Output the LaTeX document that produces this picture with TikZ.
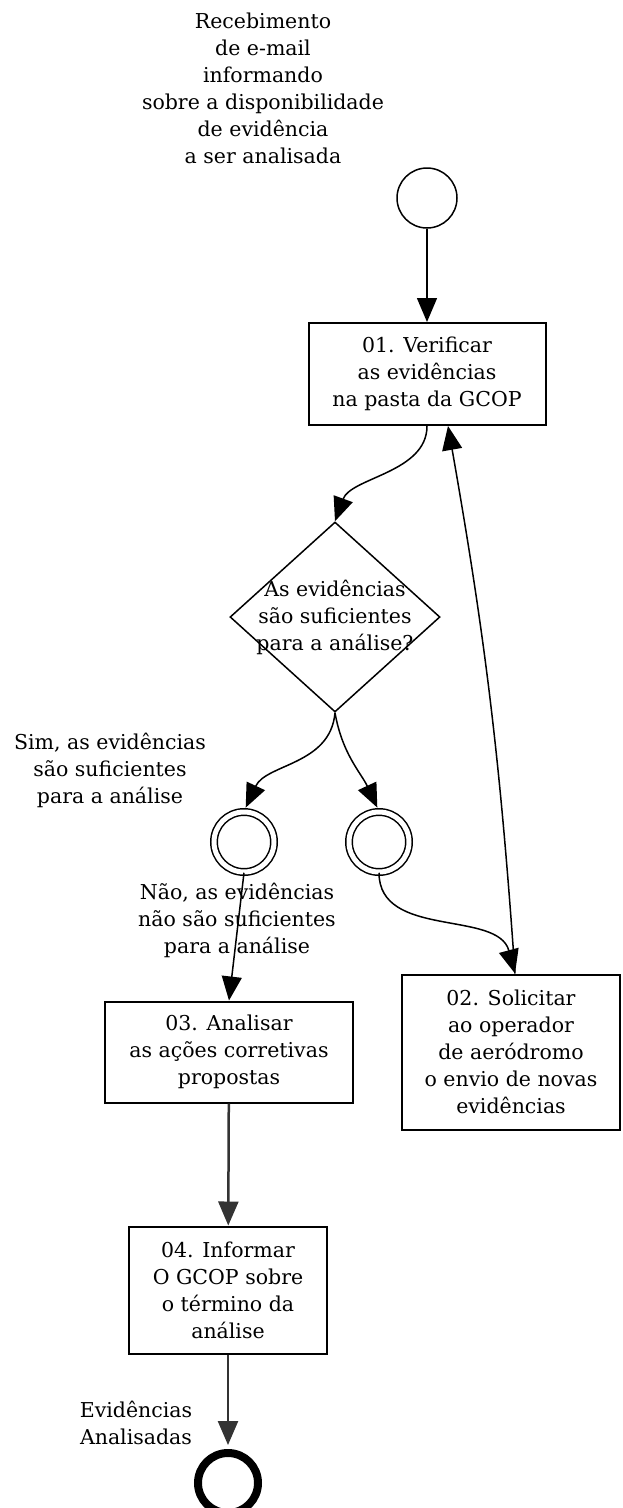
\documentclass[tikz,border=0pt]{standalone}
\usepackage{fontspec}
\setmainfont{DejaVu Serif}
\usetikzlibrary{shapes.geometric, arrows.meta, positioning}

\begin{document}
\begin{tikzpicture}[x=1pt, y=-1pt, font=\fontsize{20.5}{27}\selectfont,
    task/.style={draw, line width=2pt, align=center, inner sep=0pt},
    gateway/.style={draw, diamond, line width=1.5pt, minimum width=210pt, minimum height=190pt, inner sep=0pt},
    startev/.style={draw, circle, line width=1.5pt, minimum size=60pt, inner sep=0pt},
    midev/.style={draw, circle, double, line width=1.5pt, double distance=5pt, minimum size=60pt, inner sep=0pt},
    endev/.style={draw, circle, line width=8pt, minimum size=60pt, inner sep=0pt},
    flow/.style={line width=1.5pt, -{Triangle[length=24pt, width=20pt]}},
    flowthick/.style={flow, line width=2.5pt, black!80},
    lbl/.style={align=center, inner sep=0pt}]
    \useasboundingbox (0,0) rectangle (622,1508);

    % Events
    \node[lbl] (trigger) at (263,88) {Recebimento\\de e-mail\\informando\\sobre a disponibilidade\\de evidência\\a ser analisada};
    \node[startev] (start) at (427,198) {};
    \node[midev] (yes) at (244,842) {};
    \node[midev] (no) at (379,842) {};
    \node[endev] (finish) at (228,1483) {};
    \node[lbl] (finishlbl) at (136,1423) {Evidências\\Analisadas};

    % Tasks
    \node[task, minimum width=237pt, minimum height=102pt] (verify) at (427,374) {01. Verificar\\as evidências\\na pasta da GCOP};
    \node[task, minimum width=218pt, minimum height=155pt] (request) at (511,1052) {02. Solicitar\\ao operador\\de aeródromo\\o envio de novas\\evidências};
    \node[task, minimum width=248pt, minimum height=101pt] (analyse) at (229,1052) {03. Analisar\\as ações corretivas\\propostas};
    \node[task, minimum width=198pt, minimum height=127pt] (inform) at (228,1290) {04. Informar\\O GCOP sobre\\o término da\\análise};

    % Gateway
    \node[gateway] (gw) at (335,617) {};
    \node[lbl] (gwtext) at (gw) {As evidências\\são suficientes\\para a análise?};
    \node[lbl] (yeslbl) at (110,770) {Sim, as evidências\\são suficientes\\para a análise};
    \node[lbl] (nolbl) at (237,920) {Não, as evidências\\não são suficientes\\para a análise};

    % Flows
    \draw[flow] (start) -- (verify);
    \draw[flow] (verify.south) to[out=-90, in=70, looseness=0.9] (gw.north);
    \draw[flow, shorten >=4pt] (gw.south) to[out=-95, in=65] (yes.north);
    \draw[flow, shorten >=4pt] (gw.south) to[out=-80, in=115] (no.north);
    \draw[flow] (yes.south) -- (analyse.north);
    \draw[flow] (no.south) to[out=-90, in=105] ([xshift=4pt]request.north);
    \draw[flow] ([xshift=4pt]request.north) to[bend right=3] ([xshift=21pt]verify.south);
    \draw[flowthick] (analyse) -- (inform);
    \draw[flowthick, shorten >=4pt] (inform) -- (finish);
\end{tikzpicture}
\end{document}
